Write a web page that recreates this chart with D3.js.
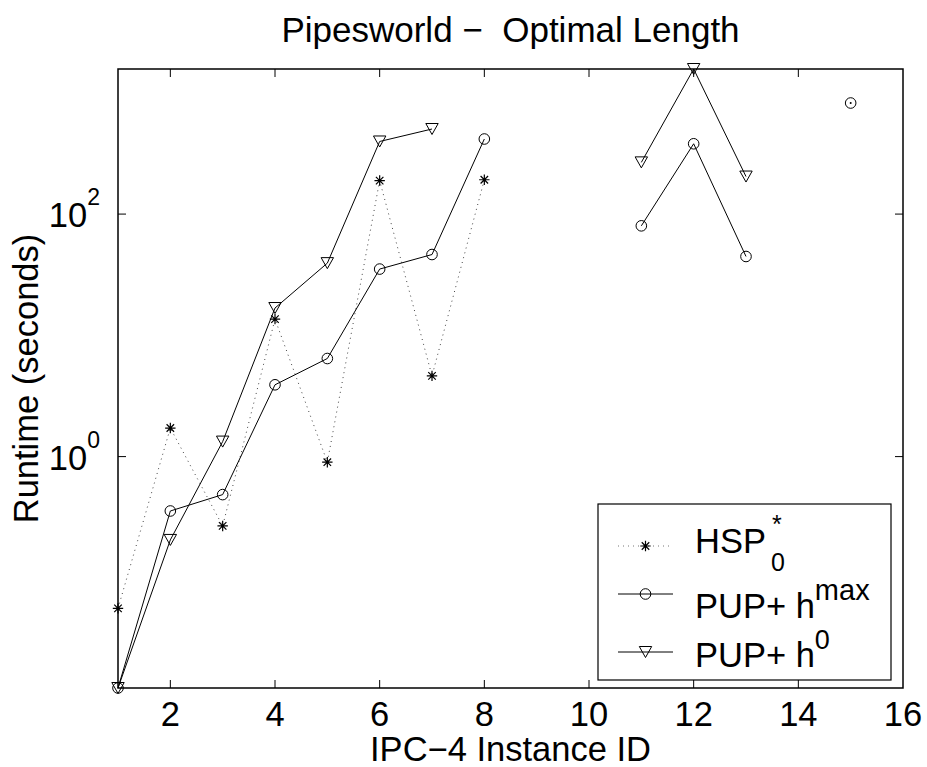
<!DOCTYPE html>
<html>
<head>
<meta charset="utf-8">
<script src="https://cdn.jsdelivr.net/npm/d3@7"></script>
<style>
  html, body { margin: 0; padding: 0; background: #fff; }
  svg { display: block; font-family: 'Liberation Sans', Arial, sans-serif; }
</style>
</head>
<body>
<div id="chart"></div>
<script>
// ── Pipesworld – Optimal Length (log runtime per instance) ─────────

const instanceIds = [1, 2, 3, 4, 5, 6, 7, 8, 9, 10, 11, 12, 13, 14, 15];
// runtimes in seconds, null = not solved
const hspValues  = [0.056, 1.72, 0.268, 13.6, 0.899, 189, 4.63, 192, null, null, null, null, null, null, null];
const hmaxValues = [0.01235, 0.356, 0.486, 3.91, 6.44, 35.2, 46.4, 416, null, null, 80.0, 380, 44.7, null, 824];
const h0Values   = [0.01235, 0.2055, 1.33, 16.8, 39.4, 397, 503, null, null, null, 267, 1572, 204, null, null];

const xTicks = [2, 4, 6, 8, 10, 12, 14, 16];
const yTicks = [1, 100];
const yTickExp = ['0', '2'];
const xDomain = [1, 16];
const yDomain = [0.01235, 1572];

const width = 927, height = 767;
const margin = { left: 118, right: 24, top: 69, bottom: 79 };
const fontSize = 34.5;

const svg = d3.select('#chart')
    .append('svg')
    .attr('width', width)
    .attr('height', height);

const x = d3.scaleLinear().domain(xDomain).range([margin.left, width - margin.right]);
const y = d3.scaleLog().domain(yDomain).range([height - margin.bottom, margin.top]);

const x0 = x.range()[0], x1 = x.range()[1];
const yBot = y.range()[0], yTop = y.range()[1];

// Axes box
svg.append('rect')
    .attr('x', x0).attr('y', yTop)
    .attr('width', x1 - x0).attr('height', yBot - yTop)
    .attr('fill', 'none').attr('stroke', '#000').attr('stroke-width', 1.5);

// Ticks (inward, mirrored on both sides)
const tickLen = 8;
const ticks = svg.append('g').attr('stroke', '#000').attr('stroke-width', 1);
xTicks.filter(t => t < xDomain[1]).forEach(t => {
    ticks.append('line').attr('x1', x(t)).attr('x2', x(t)).attr('y1', yBot).attr('y2', yBot - tickLen);
    ticks.append('line').attr('x1', x(t)).attr('x2', x(t)).attr('y1', yTop).attr('y2', yTop + tickLen);
});
yTicks.forEach(t => {
    ticks.append('line').attr('x1', x0).attr('x2', x0 + tickLen).attr('y1', y(t)).attr('y2', y(t));
    ticks.append('line').attr('x1', x1).attr('x2', x1 - tickLen).attr('y1', y(t)).attr('y2', y(t));
});

// X tick labels
svg.append('g')
    .selectAll('text')
    .data(xTicks)
    .join('text')
    .attr('x', d => x(d))
    .attr('y', yBot + 38)
    .attr('text-anchor', 'middle')
    .attr('font-size', fontSize)
    .text(d => d);

// Y tick labels: 10^n
yTicks.forEach((t, i) => {
    const lab = svg.append('text')
        .attr('x', x0 - 18)
        .attr('y', y(t) + 13)
        .attr('text-anchor', 'end')
        .attr('font-size', fontSize);
    lab.append('tspan').text('10');
    lab.append('tspan').attr('dy', -22).attr('font-size', 23).text(yTickExp[i]);
});

// Title and axis labels
svg.append('text')
    .attr('x', (x0 + x1) / 2).attr('y', 42)
    .attr('text-anchor', 'middle')
    .attr('font-size', 35)
    .attr('xml:space', 'preserve')
    .text('Pipesworld \u2212  Optimal Length');

svg.append('text')
    .attr('x', (x0 + x1) / 2).attr('y', 761)
    .attr('text-anchor', 'middle')
    .attr('font-size', fontSize)
    .text('IPC\u22124 Instance ID');

svg.append('text')
    .attr('transform', `translate(38, ${(yTop + yBot) / 2}) rotate(-90)`)
    .attr('text-anchor', 'middle')
    .attr('font-size', fontSize)
    .text('Runtime (seconds)');

// Markers
function drawMarker(g, type, cx, cy) {
    if (type === 'star') {
        const r = 5.2;
        const path = d3.path();
        path.moveTo(cx - r, cy); path.lineTo(cx + r, cy);
        path.moveTo(cx, cy - r); path.lineTo(cx, cy + r);
        path.moveTo(cx - r * 0.72, cy - r * 0.72); path.lineTo(cx + r * 0.72, cy + r * 0.72);
        path.moveTo(cx - r * 0.72, cy + r * 0.72); path.lineTo(cx + r * 0.72, cy - r * 0.72);
        g.append('path').attr('d', path.toString()).attr('stroke', '#000').attr('stroke-width', 1.2).attr('fill', 'none');
    } else if (type === 'circle') {
        g.append('circle').attr('cx', cx).attr('cy', cy).attr('r', 5.3)
            .attr('fill', 'none').attr('stroke', '#000').attr('stroke-width', 1);
    } else if (type === 'tri') {
        const w = 6.2, h = 11;
        g.append('path')
            .attr('d', `M${cx - w},${cy - h / 2}L${cx + w},${cy - h / 2}L${cx},${cy + h / 2}Z`)
            .attr('fill', 'none').attr('stroke', '#000').attr('stroke-width', 1);
    }
}

const seriesList = [
    { name: 'hsp',  values: hspValues,  marker: 'star',   dash: '1,4', color: '#444' },
    { name: 'hmax', values: hmaxValues, marker: 'circle', dash: null,  color: '#000' },
    { name: 'h0',   values: h0Values,   marker: 'tri',    dash: null,  color: '#000' }
];

const line = d3.line()
    .defined(d => d.v != null)
    .x(d => x(d.id))
    .y(d => y(d.v));

seriesList.forEach(s => {
    const pts = instanceIds.map((id, i) => ({ id, v: s.values[i] }));
    const g = svg.append('g');
    g.append('path')
        .datum(pts)
        .attr('d', line)
        .attr('fill', 'none')
        .attr('stroke', s.color)
        .attr('stroke-width', 1)
        .attr('stroke-dasharray', s.dash);
    pts.forEach((p, i) => {
        if (p.v == null) return;
        drawMarker(g, s.marker, x(p.id), y(p.v));
        // isolated point on a solid line renders as a tiny dot
        const prev = pts[i - 1], next = pts[i + 1];
        if (!s.dash && (!prev || prev.v == null) && (!next || next.v == null)) {
            g.append('circle').attr('cx', x(p.id)).attr('cy', y(p.v)).attr('r', 1).attr('fill', '#000');
        }
    });
});

// Legend
const lg = svg.append('g');
lg.append('rect')
    .attr('x', 598).attr('y', 504).attr('width', 293).attr('height', 176)
    .attr('fill', '#fff').attr('stroke', '#000').attr('stroke-width', 1.2);

const legendRows = [
    { s: seriesList[0], y: 546 },
    { s: seriesList[1], y: 594 },
    { s: seriesList[2], y: 652 }
];
legendRows.forEach(r => {
    lg.append('line')
        .attr('x1', 618).attr('x2', 673).attr('y1', r.y).attr('y2', r.y)
        .attr('stroke', r.s.dash ? '#777' : '#000')
        .attr('stroke-width', 1)
        .attr('stroke-dasharray', r.s.dash);
    drawMarker(lg, r.s.marker, 645.5, r.y);
});

lg.append('text').attr('x', 695).attr('y', 553).attr('font-size', fontSize).text('HSP');
lg.append('text').attr('x', 772).attr('y', 533).attr('font-size', 25).text('*');
lg.append('text').attr('x', 771).attr('y', 571).attr('font-size', 25).text('0');

const t2 = lg.append('text').attr('x', 695).attr('y', 618).attr('font-size', fontSize);
t2.append('tspan').text('PUP+ h');
t2.append('tspan').attr('dy', -18).attr('font-size', 29).text('max');

const t3 = lg.append('text').attr('x', 695).attr('y', 667).attr('font-size', fontSize);
t3.append('tspan').text('PUP+ h');
t3.append('tspan').attr('dy', -18).attr('font-size', 27).text('0');
</script>
</body>
</html>
